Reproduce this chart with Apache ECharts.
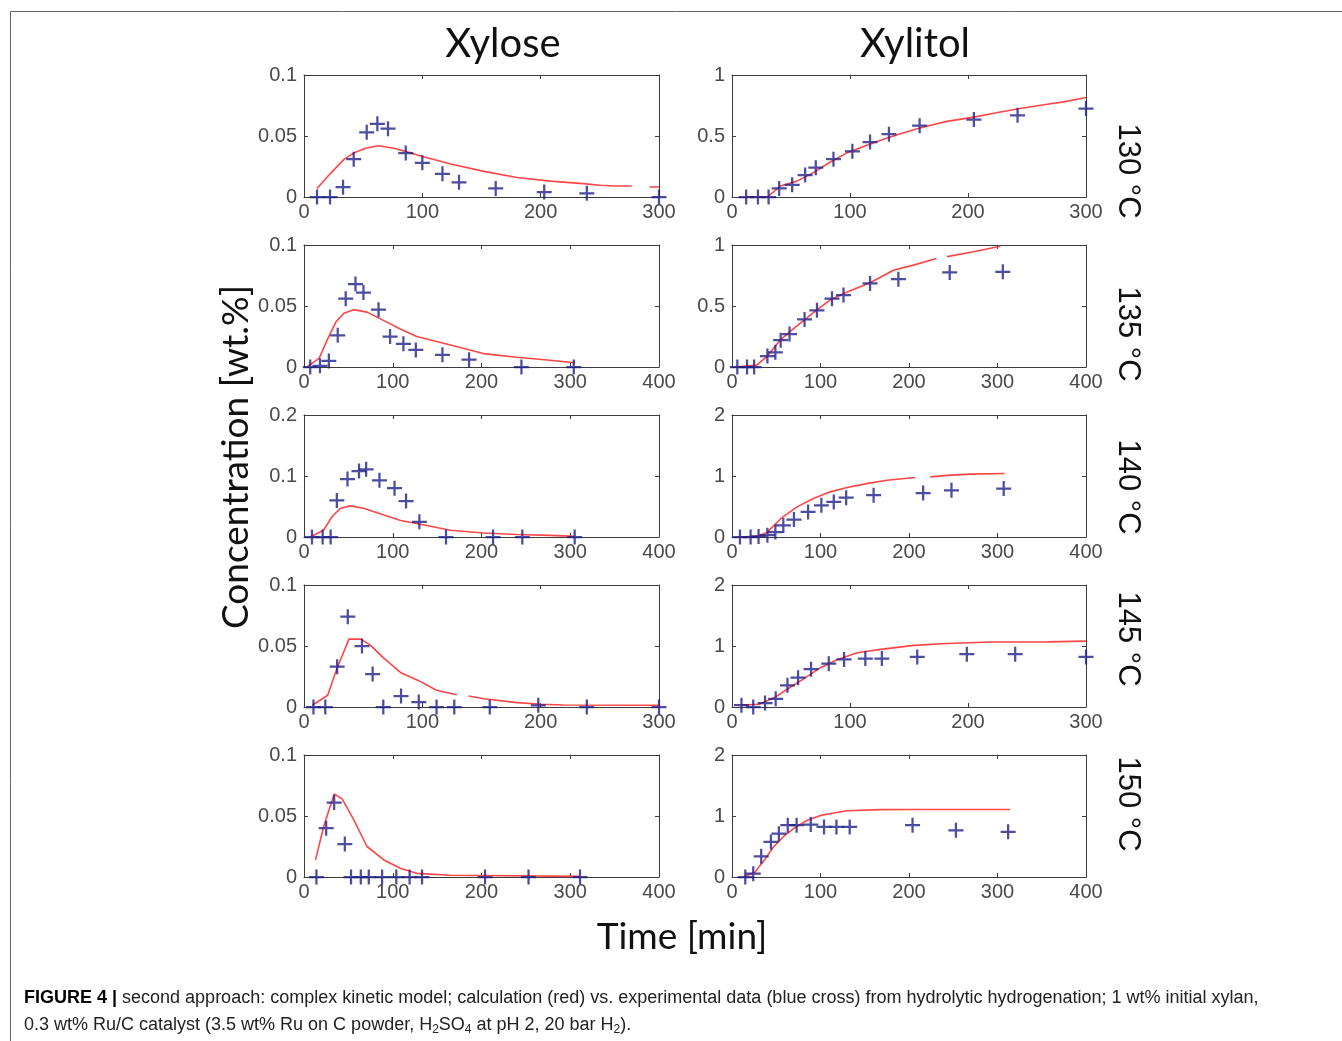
<!DOCTYPE html>
<html>
<head>
<meta charset="utf-8">
<title>Figure 4</title>
<script src="https://cdn.jsdelivr.net/npm/echarts@6/dist/echarts.min.js"></script>
<style>
  html, body { margin: 0; background: #fff; }
  #main { width: 1342px; height: 1041px; }
</style>
</head>
<body>
<div id="main"></div>
<script>
// [time in min, concentration in wt.%]; '-' leaves a gap in the model line
const xylose130Exp = [[11,0],[22,0],[33,0.008],[42,0.031],[53,0.053],[62,0.06],[71,0.056],[86,0.036],[100,0.028],[117,0.019],[131,0.012],[162,0.007],[203,0.004],[239,0.003],[300,0]];
const xylose130Fit = [[11,0.007],[22,0.019],[34,0.031],[42,0.036],[52,0.040],[63,0.042],[76,0.040],[87,0.037],[101,0.033],[124,0.027],[152,0.021],[180,0.016],[208,0.013],[236,0.011],[250,0.0096],[264,0.009],[277,0.009],[284,'-'],[292,0.0082],[300,0.0082]];
const xylitol130Exp = [[12,0],[22,0],[31,0],[40,0.07],[51,0.1],[62,0.18],[71,0.24],[86,0.31],[102,0.375],[117,0.45],[133,0.515],[159,0.585],[205,0.635],[242,0.67],[300,0.725]];
const xylitol130Fit = [[12,0],[30,0],[41,0.09],[55,0.13],[69,0.2],[83,0.285],[97,0.36],[112,0.415],[126,0.465],[140,0.51],[159,0.565],[182,0.62],[205,0.655],[224,0.69],[244,0.725],[267,0.76],[281,0.78],[300,0.815]];

const xylose135Exp = [[7,0],[18,0.001],[28,0.005],[38,0.026],[47,0.056],[58,0.068],[67,0.061],[84,0.047],[97,0.025],[112,0.019],[126,0.014],[156,0.01],[186,0.006],[245,0],[304,0]];
const xylose135Fit = [[4,0.0005],[17,0.007],[26,0.022],[36,0.037],[45,0.044],[56,0.047],[71,0.045],[90,0.038],[109,0.031],[127,0.025],[165,0.018],[202,0.011],[240,0.008],[277,0.0055],[305,0.0035]];
const xylitol135Exp = [[6,0],[17,0],[25,0],[40,0.09],[49,0.12],[55,0.22],[65,0.27],[82,0.39],[96,0.465],[113,0.56],[126,0.59],[156,0.685],[188,0.72],[246,0.775],[306,0.78]];
const xylitol135Fit = [[4,0],[28,0.015],[40,0.09],[55,0.225],[73,0.335],[92,0.445],[111,0.55],[130,0.615],[156,0.69],[183,0.795],[205,0.835],[231,0.89],[237,'-'],[243,0.905],[273,0.945],[303,0.99]];

const xylose140Exp = [[9,0],[21,0],[30,0],[37,0.06],[49,0.095],[62,0.108],[70,0.111],[85,0.093],[102,0.08],[115,0.059],[130,0.025],[160,0],[213,0],[246,0],[305,0]];
const xylose140Fit = [[7,0],[22,0.011],[32,0.034],[41,0.047],[52,0.051],[67,0.047],[90,0.036],[109,0.027],[127,0.022],[165,0.011],[202,0.0066],[240,0.004],[277,0.0027],[305,0.001]];
const xylitol140Exp = [[9,0],[21,0],[30,0.01],[40,0.03],[49,0.08],[58,0.19],[70,0.285],[86,0.41],[101,0.52],[115,0.575],[129,0.645],[160,0.685],[216,0.72],[248,0.765],[307,0.795]];
const xylitol140Fit = [[6,0],[28,0.01],[40,0.08],[55,0.3],[73,0.49],[92,0.63],[111,0.74],[130,0.81],[152,0.875],[175,0.93],[207,0.975],[215,'-'],[224,0.985],[243,1.01],[269,1.03],[308,1.04]];

const xylose145Exp = [[8,0],[18,0],[28,0.033],[37,0.074],[49,0.05],[58,0.027],[67,0],[82,0.009],[97,0.004],[112,0],[127,0],[157,0],[198,0.0014],[239,0],[300,0]];
const xylose145Fit = [[7,0.0014],[20,0.0096],[28,0.032],[38,0.0556],[48,0.0556],[56,0.0507],[67,0.0405],[82,0.028],[96,0.022],[112,0.0137],[129,0.0101],[134,'-'],[139,0.009],[152,0.0068],[180,0.0036],[200,0.0022],[219,0.0016],[300,0.0014]];
const xylitol145Exp = [[8,0.03],[18,0],[28,0.065],[37,0.135],[47,0.355],[56,0.48],[67,0.62],[82,0.71],[95,0.78],[113,0.795],[127,0.795],[157,0.82],[199,0.865],[240,0.865],[300,0.82]];
const xylitol145Fit = [[7,0.03],[23,0.045],[37,0.165],[49,0.32],[61,0.465],[75,0.645],[89,0.775],[106,0.89],[126,0.945],[154,1.01],[182,1.04],[219,1.065],[267,1.068],[300,1.08]];

const xylose150Exp = [[14,0],[25,0.04],[34,0.061],[46,0.027],[53,0],[64,0],[73,0],[88,0],[104,0],[119,0],[133,0],[204,0],[253,0],[311,0]];
const xylose150Fit = [[13,0.014],[22,0.041],[34,0.068],[43,0.064],[56,0.047],[71,0.025],[90,0.014],[109,0.007],[127,0.003],[165,0.0014],[311,0.0005]];
const xylitol150Exp = [[15,0],[24,0.055],[33,0.34],[44,0.575],[53,0.71],[63,0.85],[73,0.85],[89,0.86],[104,0.82],[118,0.82],[133,0.82],[204,0.85],[253,0.765],[312,0.74]];
const xylitol150Fit = [[13,0],[26,0.08],[36,0.265],[47,0.495],[58,0.66],[71,0.81],[85,0.93],[100,1.01],[115,1.05],[130,1.085],[168,1.105],[205,1.107],[314,1.107]];

const temperatures = ['130 °C', '135 °C', '140 °C', '145 °C', '150 °C'];
const xyloseTimeMax = [300, 400, 400, 300, 400];
const xylitolTimeMax = [300, 400, 400, 300, 400];
const xyloseYMax = [0.1, 0.1, 0.2, 0.1, 0.1];
const xyloseYStep = [0.05, 0.05, 0.1, 0.05, 0.05];
const xylitolYMax = [1, 1, 2, 2, 2];
const xylitolYStep = [0.5, 0.5, 1, 1, 1];

const xyloseExp = [xylose130Exp, xylose135Exp, xylose140Exp, xylose145Exp, xylose150Exp];
const xyloseFit = [xylose130Fit, xylose135Fit, xylose140Fit, xylose145Fit, xylose150Fit];
const xylitolExp = [xylitol130Exp, xylitol135Exp, xylitol140Exp, xylitol145Exp, xylitol150Exp];
const xylitolFit = [xylitol130Fit, xylitol135Fit, xylitol140Fit, xylitol145Fit, xylitol150Fit];

const chart = echarts.init(document.getElementById('main'), null, { renderer: 'canvas' });

const axisColor = '#3c3c3c';
const labelFont = { fontSize: 20, color: '#4a4a4a', fontFamily: 'Liberation Sans, Arial, sans-serif' };
const crossSymbol = 'path://M6.8,0H9.2V16H6.8Z M0,6.8H16V9.2H0Z';
const rowTops = [75, 245, 415, 585, 755];
const plotHeight = 122;

const grids = [], xAxes = [], yAxes = [], series = [];

function addPanel(left, width, top, xMax, yMax, yStep, exp, fit) {
  const g = grids.length;
  grids.push({ left: left, top: top, width: width, height: plotHeight });
  const line = { show: true, onZero: false, lineStyle: { color: axisColor, width: 1 } };
  const tick = { show: true, inside: true, length: 4, lineStyle: { color: axisColor } };
  const xi = xAxes.length;
  xAxes.push({
    type: 'value', gridIndex: g, position: 'bottom', min: 0, max: xMax, interval: 100,
    axisLine: line, axisTick: tick, splitLine: { show: false },
    axisLabel: Object.assign({ margin: 5 }, labelFont)
  });
  xAxes.push({
    type: 'value', gridIndex: g, position: 'top', min: 0, max: xMax, interval: 100,
    axisLine: line, axisTick: tick, splitLine: { show: false }, axisLabel: { show: false }
  });
  const yi = yAxes.length;
  yAxes.push({
    type: 'value', gridIndex: g, position: 'left', min: 0, max: yMax, interval: yStep,
    axisLine: line, axisTick: tick, splitLine: { show: false },
    axisLabel: Object.assign({ margin: 7 }, labelFont)
  });
  yAxes.push({
    type: 'value', gridIndex: g, position: 'right', min: 0, max: yMax, interval: yStep,
    axisLine: line, axisTick: tick, splitLine: { show: false }, axisLabel: { show: false }
  });
  series.push({
    type: 'line', xAxisIndex: xi, yAxisIndex: yi, data: fit, showSymbol: false,
    lineStyle: { color: '#ff4646', width: 1.6 }, z: 2, silent: true
  });
  series.push({
    type: 'scatter', xAxisIndex: xi, yAxisIndex: yi, data: exp, clip: false,
    symbol: crossSymbol, symbolSize: 15, itemStyle: { color: '#1f1f88' }, z: 3, silent: true
  });
}

for (let r = 0; r < 5; r++) {
  addPanel(304, 355, rowTops[r], xyloseTimeMax[r], xyloseYMax[r], xyloseYStep[r], xyloseExp[r], xyloseFit[r]);
  addPanel(732, 354, rowTops[r], xylitolTimeMax[r], xylitolYMax[r], xylitolYStep[r], xylitolExp[r], xylitolFit[r]);
}

const tempCenters = [171, 334, 487, 639, 804];
const titleFont = '40px Lato, "Open Sans", sans-serif';
const axisTitleFont = '37px Lato, "Open Sans", sans-serif';
const captionFamily = '"Liberation Sans Narrow", "Liberation Sans", Arial, sans-serif';
const graphics = [
  { type: 'polyline', shape: { points: [[1342, 11.5], [10.5, 11.5], [10.5, 1041]] }, style: { stroke: '#666', lineWidth: 1, fill: null } },
  { type: 'text', x: 503, y: 44, style: { text: 'Xylose', font: titleFont, fill: '#111', textAlign: 'center', textVerticalAlign: 'middle' } },
  { type: 'text', x: 915, y: 44, style: { text: 'Xylitol', font: titleFont, fill: '#111', textAlign: 'center', textVerticalAlign: 'middle' } },
  { type: 'text', x: 236, y: 457, rotation: Math.PI / 2, style: { text: 'Concentration [wt.%]', font: axisTitleFont, fill: '#111', textAlign: 'center', textVerticalAlign: 'middle' } },
  { type: 'text', x: 682, y: 937, style: { text: 'Time [min]', font: axisTitleFont, fill: '#111', textAlign: 'center', textVerticalAlign: 'middle' } },
  {
    type: 'text', x: 24, y: 998,
    style: {
      text: '{b|FIGURE 4 |} second approach: complex kinetic model; calculation (red) vs. experimental data (blue cross) from hydrolytic hydrogenation; 1 wt% initial xylan,',
      fontSize: 18, fontFamily: captionFamily, fill: '#222', textVerticalAlign: 'middle',
      rich: { b: { fontSize: 18, fontWeight: 'bold', fill: '#000', fontFamily: captionFamily } }
    }
  },
  {
    type: 'text', x: 24, y: 1025,
    style: {
      text: '0.3 wt% Ru/C catalyst (3.5 wt% Ru on C powder, H{s|2}SO{s|4} at pH 2, 20 bar H{s|2}).',
      fontSize: 18, fontFamily: captionFamily, fill: '#222', textVerticalAlign: 'middle', lineHeight: 22,
      rich: { s: { fontSize: 12, verticalAlign: 'bottom', fill: '#222', fontFamily: captionFamily } }
    }
  }
];
for (let r = 0; r < 5; r++) {
  graphics.push({
    type: 'text', x: 1128, y: tempCenters[r], rotation: -Math.PI / 2,
    style: { text: temperatures[r], font: '31px "Liberation Sans", Arial, sans-serif', fill: '#111', textAlign: 'center', textVerticalAlign: 'middle' }
  });
}

chart.setOption({
  backgroundColor: '#ffffff',
  animation: false,
  grid: grids,
  xAxis: xAxes,
  yAxis: yAxes,
  series: series,
  graphic: graphics
});
</script>
</body>
</html>
